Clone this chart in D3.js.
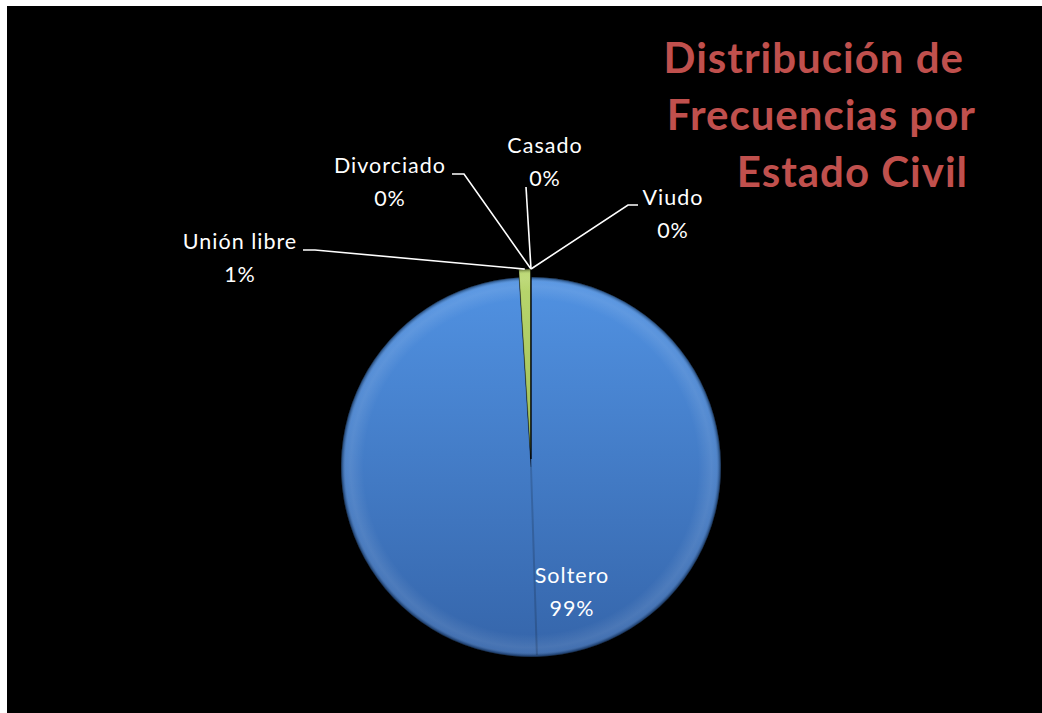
<!DOCTYPE html>
<html>
<head>
<meta charset="utf-8">
<script src="https://cdn.jsdelivr.net/npm/d3@7"></script>
<style>
  html, body { margin: 0; padding: 0; background: #ffffff; }
  svg { display: block; }
  text { font-family: Lato, "Open Sans", sans-serif; }
</style>
</head>
<body>
<svg id="chart" width="1042" height="713"></svg>
<script>
// Estado civil: categorías y porcentaje de cada una
const categories = ["Soltero", "Unión libre", "Divorciado", "Casado", "Viudo"];
const values = [99, 1, 0, 0, 0];
const titleLines = ["Distribución de", "Frecuencias por", "Estado Civil"];

const sliceColors = {
  "Soltero": ["#5192e2", "#3565aa"],
  "Unión libre": ["#b9d76e", "#86a543"],
  "Divorciado": ["#c0504d", "#9c3b38"],
  "Casado": ["#8064a2", "#634b82"],
  "Viudo": ["#4bacc6", "#368aa1"]
};

// Colocación de las etiquetas (centro del texto y línea base de la primera fila)
const labelLayout = {
  "Soltero":     { x: 572, y: 583, inside: true },
  "Unión libre": { x: 240, y: 249, stub: [[303, 250], [315, 250]] },
  "Divorciado":  { x: 390, y: 173, stub: [[452, 174], [464, 174]] },
  "Casado":      { x: 545, y: 153, stub: [[526, 187], [526, 187]] },
  "Viudo":       { x: 673, y: 205, stub: [[638, 205], [628, 205]] }
};

const W = 1042, H = 713;
const cx = 531, cy = 467, R = 190, explode = 8;

const svg = d3.select("#chart");

// marco negro del gráfico
svg.append("rect").attr("x", 7).attr("y", 6).attr("width", W - 7).attr("height", H - 6).attr("fill", "#000");

const defs = svg.append("defs");
categories.forEach((c, i) => {
  const g = defs.append("linearGradient").attr("id", "fill" + i)
    .attr("gradientUnits", "userSpaceOnUse")
    .attr("x1", 0).attr("y1", -R).attr("x2", 0).attr("y2", R);
  g.append("stop").attr("offset", "0%").attr("stop-color", sliceColors[c][0]);
  g.append("stop").attr("offset", "100%").attr("stop-color", sliceColors[c][1]);
});
// bisel del borde exterior
const bevel = defs.append("radialGradient").attr("id", "bevel")
  .attr("gradientUnits", "userSpaceOnUse").attr("cx", 0).attr("cy", 0).attr("r", R);
[[0, "#fff", 0], [0.88, "#fff", 0], [0.95, "#fff", 0.10], [0.975, "#fff", 0.07],
 [0.99, "#000", 0.2], [1, "#000", 0.5]].forEach(([o, c, a]) =>
  bevel.append("stop").attr("offset", o).attr("stop-color", c).attr("stop-opacity", a));

const pie = d3.pie().value(d => d.value).sort(null);
const data = categories.map((c, i) => ({ category: c, value: values[i] }));
const arcs = pie(data);
const arc = d3.arc().innerRadius(0).outerRadius(R);
const total = d3.sum(values);

const offsetOf = d => {
  if (d.index === 0) return [0, 0];
  const a = (d.startAngle + d.endAngle) / 2;
  return [explode * Math.sin(a), -explode * Math.cos(a)];
};

const g = svg.append("g").attr("transform", `translate(${cx},${cy})`);

const slices = g.selectAll("g.slice").data(arcs).join("g")
  .attr("class", "slice")
  .attr("transform", d => `translate(${offsetOf(d)})`);

slices.append("path").attr("d", arc)
  .attr("fill", (d, i) => `url(#fill${i})`)
  .attr("stroke", "rgba(0,0,0,0.35)").attr("stroke-width", 0.8);
slices.append("path").attr("d", arc).attr("fill", "url(#bevel)");

// sombreado a lo largo del eje de la porción pequeña
const small = arcs[1];
const midSmall = (small.startAngle + small.endAngle) / 2 + Math.PI;
g.append("line")
  .attr("x1", 0).attr("y1", 0)
  .attr("x2", (R - 2) * Math.sin(midSmall)).attr("y2", -(R - 2) * Math.cos(midSmall))
  .attr("stroke", "rgba(0,0,0,0.16)").attr("stroke-width", 2);

const pct = d => Math.round(d.value / total * 100) + "%";

// líneas guía y etiquetas
arcs.forEach(d => {
  const L = labelLayout[d.data.category];
  const t = svg.append("text").attr("text-anchor", "middle")
    .attr("fill", "#fff").attr("font-size", 21.5).attr("letter-spacing", 1);
  t.append("tspan").attr("x", L.x).attr("y", L.y).text(d.data.category);
  t.append("tspan").attr("x", L.x).attr("y", L.y + 33).text(pct(d));
  if (L.inside) return;
  const a = (d.startAngle + d.endAngle) / 2;
  const ax = cx + (R + explode) * Math.sin(a);
  const ay = cy - (R + explode) * Math.cos(a);
  const pts = [L.stub[0], L.stub[1], [ax, ay]];
  svg.append("path").attr("d", d3.line()(pts))
    .attr("fill", "none").attr("stroke", "#fff").attr("stroke-width", 1.6);
});

// título
const title = svg.append("text").attr("fill", "#c0504d")
  .attr("font-size", 42).attr("font-weight", "bold").attr("text-anchor", "end")
  .attr("letter-spacing", 1);
const titleX = [964, 976, 968];
titleLines.forEach((s, i) => {
  title.append("tspan").attr("x", titleX[i]).attr("y", 73 + i * 57).text(s);
});
</script>
</body>
</html>
